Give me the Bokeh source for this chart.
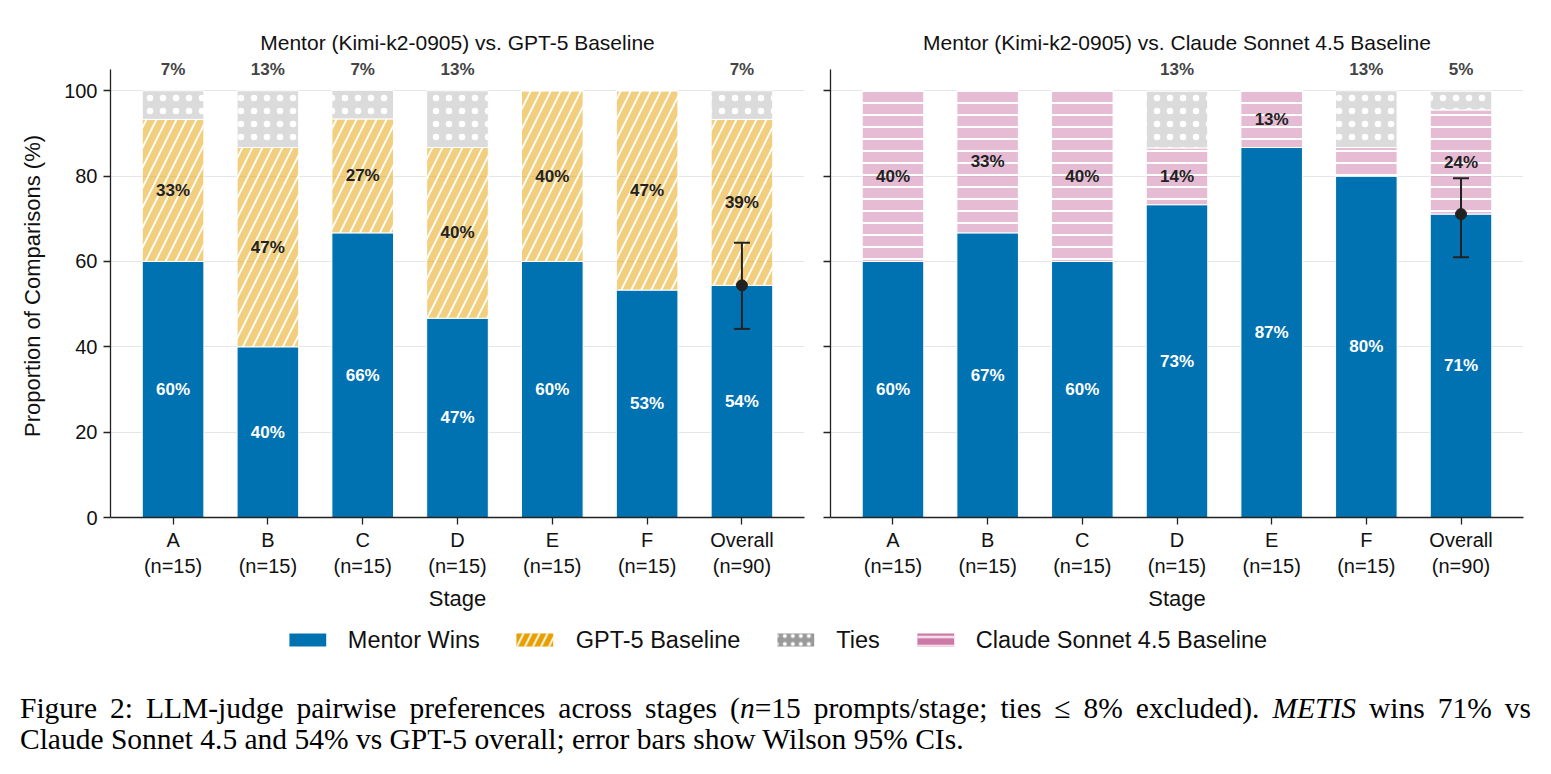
from bokeh.plotting import figure
from bokeh.models import (ColumnDataSource, FixedTicker, LabelSet, Whisker, TeeHead,
                          Legend, LegendItem, Range1d, Div)
from bokeh.layouts import column, row
from bokeh.embed import file_html
from bokeh.resources import INLINE
from bokeh.core.properties import value

# ---------------- data ----------------
stages = ["A", "B", "C", "D", "E", "F", "Overall"]
n_prompts = [15, 15, 15, 15, 15, 15, 90]

gpt_mentor = [60.0, 40.0, 66.7, 46.7, 60.0, 53.3, 54.4]
gpt_baseline = [33.3, 46.7, 26.7, 40.0, 40.0, 46.7, 38.9]
gpt_ties = [6.7, 13.3, 6.7, 13.3, 0.0, 0.0, 6.7]
gpt_mentor_lbl = ["60%", "40%", "66%", "47%", "60%", "53%", "54%"]
gpt_baseline_lbl = ["33%", "47%", "27%", "40%", "40%", "47%", "39%"]
gpt_ties_lbl = ["7%", "13%", "7%", "13%", "", "", "7%"]
gpt_ci = [44.2, 64.4]

claude_mentor = [60.0, 66.7, 60.0, 73.3, 86.7, 80.0, 71.1]
claude_baseline = [40.0, 33.3, 40.0, 13.3, 13.3, 6.7, 24.4]
claude_ties = [0.0, 0.0, 0.0, 13.3, 0.0, 13.3, 4.4]
claude_mentor_lbl = ["60%", "67%", "60%", "73%", "87%", "80%", "71%"]
claude_baseline_lbl = ["40%", "33%", "40%", "14%", "13%", "", "24%"]
claude_ties_lbl = ["", "", "", "13%", "", "13%", "5%"]
claude_ci = [61.0, 79.5]

y_ticks = [0, 20, 40, 60, 80, 100]

# ---------------- style ----------------
BLUE = "#0072B2"
ORANGE = "#E69F00"
GRAY = "#999999"
PINK = "#CC79A7"
DARK = "#222222"
FONT = "Liberation Sans"
BAR_W = 0.65


def label_source(xs, ys, labels):
    keep = [i for i, t in enumerate(labels) if t]
    return ColumnDataSource(dict(x=[xs[i] for i in keep], y=[ys[i] for i in keep],
                                 t=[labels[i] for i in keep]))


def make_panel(title, mentor, base, ties, m_lbl, b_lbl, t_lbl, ci, base_color,
               base_hatch, base_hatch_scale, base_hatch_weight, width, mbl, mbr,
               show_ylabels):
    xs = list(range(len(stages)))
    base_top = [m + b for m, b in zip(mentor, base)]
    ties_top = [bt + t for bt, t in zip(base_top, ties)]
    src = ColumnDataSource(dict(x=xs, mentor=mentor, base_top=base_top, ties_top=ties_top))
    p = figure(width=width, height=617, x_range=Range1d(-0.66, 6.66),
               y_range=Range1d(0, 108.5), output_backend="svg", toolbar_location=None,
               min_border_left=mbl, min_border_right=mbr, min_border_top=54,
               min_border_bottom=100, title=title)
    p.outline_line_color = None
    p.background_fill_color = "white"
    p.border_fill_color = "white"

    p.title.text_font = FONT
    p.title.text_font_size = "21px"
    p.title.text_font_style = "normal"
    p.title.align = "center"
    p.title.text_color = "#111111"
    p.title.standoff = 2

    # bars
    p.vbar(x="x", bottom=0, top="mentor", width=BAR_W, source=src,
           fill_color=BLUE, line_color="white", line_width=1)
    p.vbar(x="x", bottom="mentor", top="base_top", width=BAR_W, source=src,
           fill_color=base_color, fill_alpha=0.5, line_color="white", line_width=1,
           hatch_pattern=base_hatch, hatch_color="white", hatch_alpha=1.0,
           hatch_scale=base_hatch_scale, hatch_weight=base_hatch_weight)
    p.vbar(x="x", bottom="base_top", top="ties_top", width=BAR_W, source=src,
           fill_color=GRAY, fill_alpha=0.35, line_color="white", line_width=1,
           hatch_pattern=".", hatch_color="white", hatch_alpha=1.0,
           hatch_scale=13, hatch_weight=1.0)

    # in-bar labels
    m_src = label_source(xs, [m / 2 for m in mentor], m_lbl)
    b_src = label_source(xs, [m + b / 2 for m, b in zip(mentor, base)], b_lbl)
    t_src = label_source(xs, [105.0] * len(xs), t_lbl)
    p.text(x="x", y="y", text="t", source=m_src, text_align="center",
           text_baseline="middle", text_font=value(FONT), text_font_style="bold",
           text_font_size="17px", text_color="white")
    p.text(x="x", y="y", text="t", source=b_src, text_align="center",
           text_baseline="middle", text_font=value(FONT), text_font_style="bold",
           text_font_size="17px", text_color=DARK)
    ties_labels = LabelSet(x="x", y="y", text="t", source=t_src,
                           text_align="center", text_baseline="middle",
                           text_font=value(FONT), text_font_style="bold",
                           text_font_size="17px", text_color="#444444")
    p.add_layout(ties_labels)

    # error bar on overall
    ci_src = ColumnDataSource(dict(x=[xs[-1]], lo=[ci[0]], hi=[ci[1]], y=[mentor[-1]]))
    wh = Whisker(source=ci_src, base="x", upper="hi", lower="lo",
                 line_color=DARK, line_width=2, level="overlay",
                 upper_head=TeeHead(size=16, line_color=DARK, line_width=2),
                 lower_head=TeeHead(size=16, line_color=DARK, line_width=2))
    p.add_layout(wh)
    pt = p.scatter(x="x", y="y", source=ci_src, size=11, fill_color=DARK, line_color=DARK)
    pt.level = "overlay"

    # axes
    p.xaxis.ticker = FixedTicker(ticks=xs)
    p.xaxis.major_label_overrides = {
        i: f"{s}\n(n={n})" for i, (s, n) in enumerate(zip(stages, n_prompts))
    }
    p.yaxis.ticker = FixedTicker(ticks=y_ticks)
    p.yaxis.bounds = (0, 105)
    for ax in (p.xaxis, p.yaxis):
        ax.axis_line_color = DARK
        ax.axis_line_width = 1.3
        ax.major_tick_line_color = DARK
        ax.major_tick_line_width = 1.3
        ax.major_tick_out = 7
        ax.major_tick_in = 0
        ax.minor_tick_line_color = None
        ax.major_label_text_font = FONT
        ax.major_label_text_font_size = "20px"
        ax.major_label_text_color = "#111111"
        ax.axis_label_text_font = FONT
        ax.axis_label_text_font_size = "22px"
        ax.axis_label_text_font_style = "normal"
        ax.axis_label_text_color = "#111111"
    p.xaxis.axis_label = "Stage"
    p.xaxis.major_label_standoff = 4
    p.xaxis.axis_label_standoff = 6
    if show_ylabels:
        p.yaxis.axis_label = "Proportion of Comparisons (%)"
        p.yaxis.major_label_standoff = 6
        p.yaxis.axis_label_standoff = 16
    else:
        p.yaxis.major_label_overrides = {t: "" for t in y_ticks}
        p.yaxis.major_label_standoff = 0
    p.xgrid.grid_line_color = None
    p.ygrid.grid_line_color = "#e6e6e6"
    p.ygrid.grid_line_width = 1
    return p


p1 = make_panel("Mentor (Kimi-k2-0905) vs. GPT-5 Baseline", gpt_mentor, gpt_baseline,
                gpt_ties, gpt_mentor_lbl, gpt_baseline_lbl, gpt_ties_lbl, gpt_ci,
                ORANGE, "/", 20, 1.8, 812, 110, 8, True)
p2 = make_panel("Mentor (Kimi-k2-0905) vs. Claude Sonnet 4.5 Baseline", claude_mentor,
                claude_baseline, claude_ties, claude_mentor_lbl, claude_baseline_lbl,
                claude_ties_lbl, claude_ci, PINK, "-", 12, 2.0, 739, 18, 28, False)

# ---------------- legend strip ----------------
leg = figure(width=1551, height=45, x_range=Range1d(0, 1), y_range=Range1d(0, 1),
             output_backend="svg", toolbar_location=None, min_border=0)
leg.axis.visible = False
leg.grid.visible = False
leg.outline_line_color = None
hidden = ColumnDataSource(dict(x=[5.0], top=[0.0]))  # off-screen, legend swatches only
r_m = leg.vbar(x="x", top="top", width=0.1, source=hidden, fill_color=BLUE, line_color=None)
r_g = leg.vbar(x="x", top="top", width=0.1, source=hidden, fill_color=ORANGE, line_color=None,
               hatch_pattern="/", hatch_color="white", hatch_scale=16, hatch_weight=1.8)
r_t = leg.vbar(x="x", top="top", width=0.1, source=hidden, fill_color=GRAY, line_color=None,
               hatch_pattern=".", hatch_color="white", hatch_scale=8, hatch_weight=1.2)
r_c = leg.vbar(x="x", top="top", width=0.1, source=hidden, fill_color=PINK, line_color=None,
               hatch_pattern="-", hatch_color="white", hatch_scale=9, hatch_weight=2)
legend = Legend(items=[LegendItem(label="Mentor Wins", renderers=[r_m]),
                       LegendItem(label="GPT-5 Baseline", renderers=[r_g]),
                       LegendItem(label="Ties", renderers=[r_t]),
                       LegendItem(label="Claude Sonnet 4.5 Baseline", renderers=[r_c])],
                orientation="horizontal", location="center",
                label_text_font=FONT, label_text_font_size="23.5px",
                label_text_color="#111111",
                glyph_width=46, glyph_height=16, label_standoff=18, spacing=32,
                padding=0, margin=0, border_line_alpha=0, background_fill_alpha=0)
leg.add_layout(legend, "center")

# ---------------- caption ----------------
cap_style = {"font-family": "'Liberation Serif', serif", "font-size": "29.5px",
             "line-height": "31px", "color": "#000000"}
cap1 = Div(text='<div style="width:1511px;text-align:justify;text-align-last:justify;">'
                'Figure 2: LLM-judge pairwise preferences across stages (<i>n</i>=15 '
                'prompts/stage; ties &le; 8% excluded). <i>METIS</i> wins 71% vs</div>',
           width=1511, height=31, margin=(31, 20, 0, 20), styles=cap_style)
cap2 = Div(text="Claude Sonnet 4.5 and 54% vs GPT-5 overall; error bars show Wilson 95% CIs.",
           width=1511, height=31, margin=(0, 20, 0, 20), styles=cap_style)

layout = column(row(p1, p2), leg, cap1, cap2)
open("out.html", "w").write(file_html(layout, INLINE))
